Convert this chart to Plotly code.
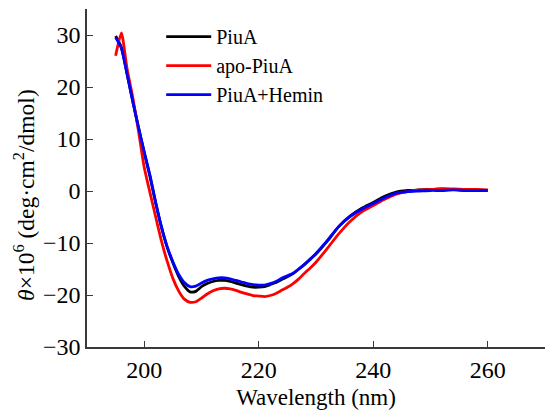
import plotly.graph_objects as go

wavelength = [195, 196, 197, 198, 199, 200, 201, 202, 203, 204, 205, 206, 207, 208, 209,
              210, 211, 212, 213, 214, 215, 216, 217, 218, 219, 220, 221, 222, 223, 224,
              225, 226, 227, 228, 229, 230, 232, 234, 236, 238, 240, 242, 244, 246, 248,
              250, 252, 254, 256, 258, 260]

piua = [29.8, 27.6, 22.5, 17.2, 12.2, 7.4, 2.8, -2.3, -6.9, -10.8, -13.8, -16.4, -18.3, -19.4, -19.3,
        -18.4, -17.8, -17.4, -17.2, -17.2, -17.4, -17.7, -18.0, -18.3, -18.5, -18.5, -18.4, -18.0, -17.6, -17.0,
        -16.5, -15.9, -15.0, -14.1, -13.1, -12.1, -9.6, -6.8, -4.8, -3.3, -2.2, -1.0, -0.2, 0.1, 0.2,
        0.3, 0.4, 0.3, 0.2, 0.2, 0.1]

apo_piua = [26.0, 30.4, 23.5, 18.0, 11.5, 4.5, -0.3, -5.0, -9.6, -13.5, -16.8, -19.2, -20.8, -21.4, -21.3,
            -20.6, -19.8, -19.2, -18.8, -18.7, -18.8, -19.1, -19.5, -19.8, -20.1, -20.2, -20.3, -20.1, -19.7, -19.1,
            -18.5, -17.8, -16.9, -15.8, -14.8, -13.7, -11.0, -8.2, -5.8, -4.0, -2.8, -1.6, -0.6, -0.1, 0.2,
            0.3, 0.4, 0.4, 0.3, 0.3, 0.2]

piua_hemin = [29.5, 27.5, 22.5, 17.2, 12.2, 7.5, 3.0, -2.2, -6.9, -10.7, -13.6, -16.0, -17.6, -18.4, -18.3,
              -17.7, -17.2, -16.9, -16.7, -16.7, -16.9, -17.2, -17.5, -17.8, -18.0, -18.1, -18.1, -17.8, -17.4, -16.8,
              -16.3, -15.8, -15.0, -14.1, -13.1, -12.0, -9.5, -6.8, -4.9, -3.5, -2.4, -1.3, -0.4, -0.1, 0.0,
              0.1, 0.1, 0.2, 0.1, 0.1, 0.1]

series = [("PiuA", piua, "#000000"),
          ("apo-PiuA", apo_piua, "#ff0000"),
          ("PiuA+Hemin", piua_hemin, "#0000ff")]

x_ticks = [200, 220, 240, 260]
y_ticks = [-30, -20, -10, 0, 10, 20, 30]
y_tick_labels = ["\u221230", "\u221220", "\u221210", "0", "10", "20", "30"]

font_family = "Times New Roman, Liberation Serif, Times, serif"

fig = go.Figure()
for name, vals, color in series:
    fig.add_trace(go.Scatter(x=wavelength, y=vals, name=name, mode="lines",
                             line=dict(color=color, width=2.8, shape="spline", smoothing=0.6)))

axis_color = "#3a3a3a"
fig.update_layout(
    width=546, height=410,
    margin=dict(l=87, r=1, t=9, b=63),
    paper_bgcolor="white", plot_bgcolor="white",
    font=dict(family=font_family, size=24, color="black"),
    showlegend=True,
    legend=dict(x=0.162, y=0.976, xanchor="left", yanchor="top",
                bgcolor="rgba(0,0,0,0)", font=dict(family=font_family, size=20, color="black"),
                itemwidth=45, tracegroupgap=0),
    xaxis=dict(range=[190, 270], tickvals=x_ticks, ticks="inside", ticklen=6,
               tickcolor=axis_color, tickwidth=1.3, showline=True, linecolor=axis_color,
               linewidth=1.5, showgrid=False, zeroline=False, mirror=False,
               tickfont=dict(family=font_family, size=24, color="black"),
               title=dict(text="Wavelength (nm)", font=dict(family=font_family, size=23, color="black"),
                          standoff=11)),
    yaxis=dict(range=[-30, 35], tickvals=y_ticks, ticktext=y_tick_labels,
               ticks="inside", ticklen=6,
               tickcolor=axis_color, tickwidth=1.3, showline=True, linecolor=axis_color,
               linewidth=1.5, showgrid=False, zeroline=False, mirror=False,
               tickfont=dict(family=font_family, size=24, color="black")),
    annotations=[dict(text="<i>θ</i>×10<sup>6</sup> (deg·cm<sup>2</sup>/dmol)",
                      xref="paper", yref="paper", x=-0.1376, y=0.45,
                      xanchor="center", yanchor="middle", textangle=-90,
                      showarrow=False, font=dict(family=font_family, size=23.5, color="black"))],
)

fig.write_html("out.html", config={"displayModeBar": False},
               post_script="document.body.style.margin='0';")
